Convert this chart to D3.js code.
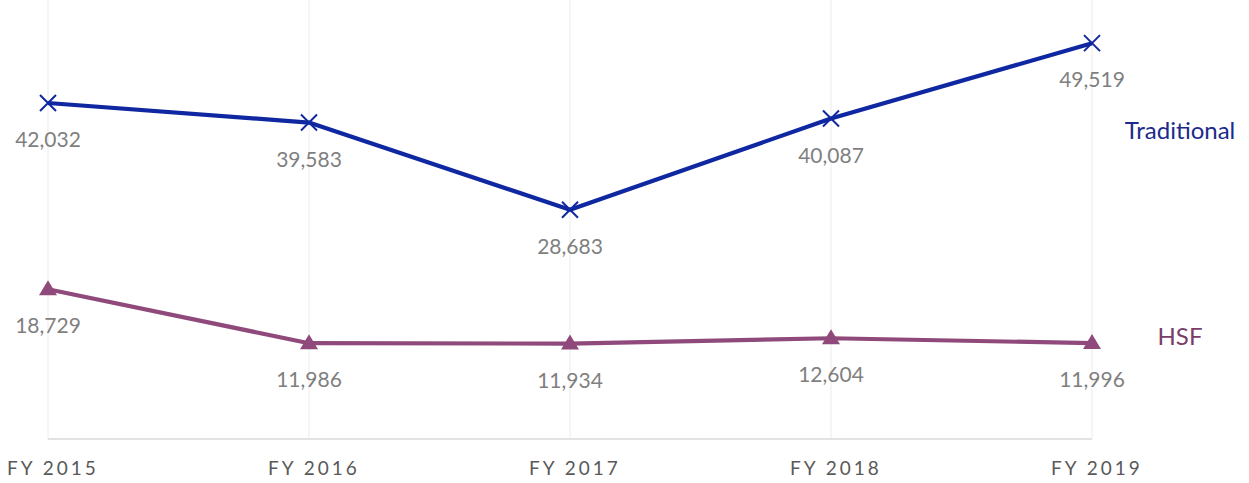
<!DOCTYPE html>
<html>
<head>
<meta charset="utf-8">
<script src="https://cdn.jsdelivr.net/npm/d3@7"></script>
<style>
  body { margin: 0; background: #fff; }
  svg { display: block; font-family: Lato, "Open Sans", sans-serif; }
</style>
</head>
<body>
<div id="chart"></div>
<script>
// data
const years = ["FY 2015", "FY 2016", "FY 2017", "FY 2018", "FY 2019"];
const traditional = [42032, 39583, 28683, 40087, 49519];
const hsf = [18729, 11986, 11934, 12604, 11996];

const width = 1249;
const height = 483;

const svg = d3.select("#chart")
  .append("svg")
    .attr("width", width)
    .attr("height", height);

const x = d3.scalePoint()
  .domain(years)
  .range([48, 1092]);

const y = d3.scaleLinear()
  .domain([0, 50000])
  .range([439, 39.3]);

// vertical gridlines
svg.append("g")
  .selectAll("line")
  .data(years)
  .enter()
  .append("line")
    .attr("x1", d => x(d))
    .attr("x2", d => x(d))
    .attr("y1", 0)
    .attr("y2", y(0))
    .attr("stroke", "#ececec")
    .attr("stroke-width", 1);

// baseline
svg.append("line")
  .attr("x1", x(years[0]))
  .attr("x2", x(years[years.length - 1]))
  .attr("y1", y(0))
  .attr("y2", y(0))
  .attr("stroke", "#d9d9d9")
  .attr("stroke-width", 1.5);

// x axis labels
svg.append("g")
  .selectAll("text")
  .data(years)
  .enter()
  .append("text")
    .attr("x", d => x(d) + 5)
    .attr("y", 475)
    .attr("text-anchor", "middle")
    .attr("font-size", 19)
    .attr("letter-spacing", 3)
    .attr("fill", "#595959")
    .text(d => d);

const line = d3.line()
  .x((d, i) => x(years[i]))
  .y(d => y(d));

const fmt = d3.format(",");

const series = [
  { name: "Traditional", values: traditional, color: "#0f27a0", labelColor: "#1a2b8c", marker: "x", nameY: 139 },
  { name: "HSF", values: hsf, color: "#8f4a7b", labelColor: "#7a3d68", marker: "tri", nameY: 345 }
];

series.forEach(s => {
  const g = svg.append("g");

  g.append("path")
    .datum(s.values)
    .attr("d", line)
    .attr("fill", "none")
    .attr("stroke", s.color)
    .attr("stroke-width", 4.2)
    .attr("stroke-linejoin", "round");

  if (s.marker === "x") {
    g.selectAll(".mk")
      .data(s.values)
      .enter()
      .append("path")
        .attr("transform", (d, i) => "translate(" + x(years[i]) + "," + y(d) + ")")
        .attr("d", "M-8,-8L8,8M-8,8L8,-8")
        .attr("stroke", s.color)
        .attr("stroke-width", 2)
        .attr("fill", "none");
  } else {
    g.selectAll(".mk")
      .data(s.values)
      .enter()
      .append("path")
        .attr("transform", (d, i) => "translate(" + x(years[i]) + "," + y(d) + ")")
        .attr("d", "M0,-9L9,6L-9,6Z")
        .attr("fill", s.color);
  }

  g.selectAll(".lbl")
    .data(s.values)
    .enter()
    .append("text")
      .attr("x", (d, i) => x(years[i]))
      .attr("y", d => y(d) + 44)
      .attr("text-anchor", "middle")
      .attr("font-size", 21)
      .attr("fill", "#7f7f7f")
      .text(d => fmt(d));

  g.append("text")
    .attr("x", 1180)
    .attr("y", s.nameY)
    .attr("text-anchor", "middle")
    .attr("font-size", 24)
    .attr("fill", s.labelColor)
    .text(s.name);
});
</script>
</body>
</html>
